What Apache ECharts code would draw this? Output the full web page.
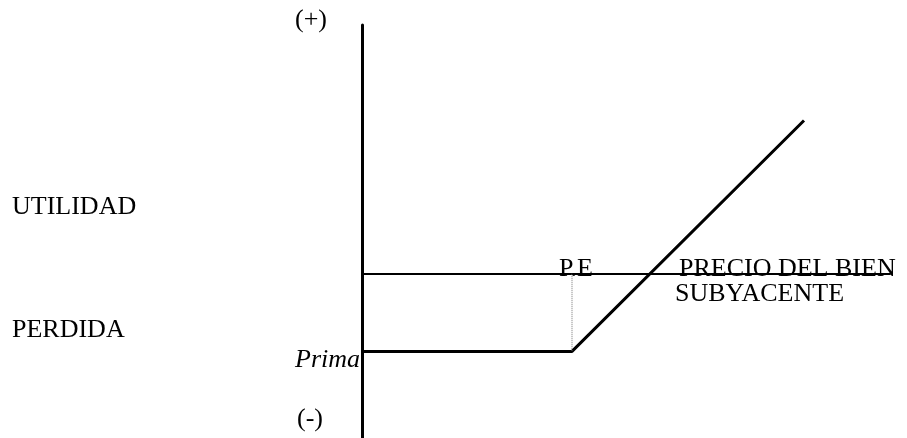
<!DOCTYPE html>
<html>
<head>
<meta charset="utf-8">
<script src="https://cdn.jsdelivr.net/npm/echarts@6/dist/echarts.min.js"></script>
<style>
  html, body { margin: 0; padding: 0; background: #fff; }
  #chart { width: 907px; height: 438px; }
</style>
</head>
<body>
<div id="chart"></div>
<script>
// payoff of a bought call option (units are arbitrary)
var payoffX = [0, 210, 442];
var payoffY = [-78, -78, 154];
// dotted guide at the strike price
var strikeX = [210, 210];
var strikeY = [0, -78];

var axisLabels = ['(+)', '(-)'];
var sideLabels = ['UTILIDAD', 'PERDIDA'];
var markLabels = ['P.E', 'Prima'];
var priceLabel = ['PRECIO DEL BIEN', 'SUBYACENTE'];

var serif = 'Liberation Serif';

function pairs(xs, ys) {
    return xs.map(function (x, i) { return [x, ys[i]]; });
}

var chart = echarts.init(document.getElementById('chart'));

function txt(text, x, y, extra) {
    var style = {
        text: text,
        x: x,
        y: y,
        fill: '#000',
        font: '26px "' + serif + '"',
        textVerticalAlign: 'middle'
    };
    for (var k in extra) style[k] = extra[k];
    return { type: 'text', style: style, z: 10 };
}

chart.setOption({
    animation: false,
    backgroundColor: '#fff',
    grid: { left: 362, top: 25, width: 528, height: 415 },
    xAxis: {
        type: 'value',
        min: 0,
        max: 528,
        axisLine: { onZero: true, lineStyle: { color: '#000', width: 2 } },
        axisTick: { show: false },
        axisLabel: { show: false },
        splitLine: { show: false }
    },
    yAxis: {
        type: 'value',
        min: -165,
        max: 250,
        axisLine: { show: true, onZero: false, lineStyle: { color: '#000', width: 3 } },
        axisTick: { show: false },
        axisLabel: { show: false },
        splitLine: { show: false }
    },
    series: [
        {
            // resultado de la opción
            type: 'line',
            data: pairs(payoffX, payoffY),
            symbol: 'none',
            lineStyle: { color: '#000', width: 3 }
        },
        {
            type: 'line',
            data: pairs(strikeX, strikeY),
            symbol: 'none',
            lineStyle: { color: '#777', width: 1, type: 'dotted' }
        }
    ],
    graphic: [
        txt(axisLabels[0], 295, 20),
        txt(axisLabels[1], 297, 419),
        txt(sideLabels[0], 12, 207),
        txt(sideLabels[1], 12, 330),
        txt(markLabels[0], 559, 269),
        txt(markLabels[1], 360, 360, { textAlign: 'right', font: 'italic 26px "' + serif + '"' }),
        txt(priceLabel[0], 679, 269),
        txt(priceLabel[1], 675, 294)
    ]
});
</script>
</body>
</html>
